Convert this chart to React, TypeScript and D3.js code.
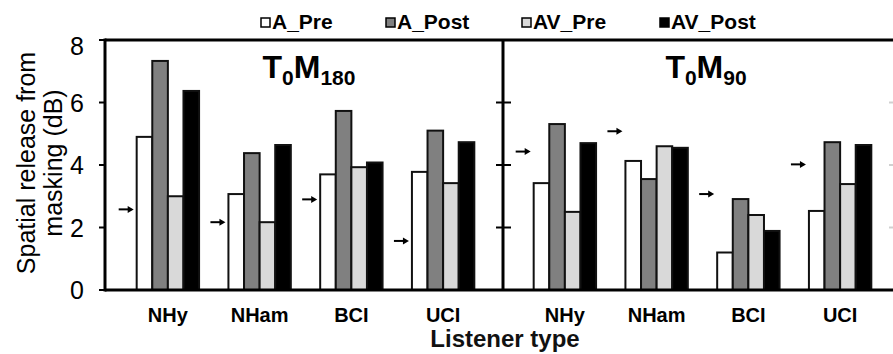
import * as d3 from 'd3';

const categories = ['NHy', 'NHam', 'BCI', 'UCI'];
const seriesNames = ['A_Pre', 'A_Post', 'AV_Pre', 'AV_Post'];
const seriesColors = ['#ffffff', '#808080', '#d9d9d9', '#000000'];
const yTicks = [0, 2, 4, 6, 8];

// T0M180 panel
const leftValues = [
  [4.9, 7.33, 3.0, 6.37],
  [3.07, 4.38, 2.17, 4.64],
  [3.7, 5.73, 3.93, 4.08],
  [3.78, 5.1, 3.42, 4.73],
];
const leftArrows = [2.58, 2.17, 2.9, 1.57];

// T0M90 panel
const rightValues = [
  [3.42, 5.31, 2.5, 4.7],
  [4.13, 3.55, 4.6, 4.55],
  [1.2, 2.91, 2.4, 1.89],
  [2.53, 4.73, 3.39, 4.64],
];
const rightArrows = [4.43, 5.08, 3.07, 4.02];

const W = 893;
const H = 354;
const y = d3.scaleLinear().domain([0, 8]).range([290, 40]);
const axisX = 105;
const dividerX = 503;
const font = '"Liberation Sans", Arial, sans-serif';

const Panel = ({ values, arrows, range }: { values: number[][]; arrows: number[]; range: [number, number] }) => {
  const x = d3.scaleBand().domain(categories).range(range).paddingInner(0.32).paddingOuter(0.16);
  const xs = d3.scaleBand().domain(seriesNames).range([0, x.bandwidth()]);
  return (
    <g>
      {categories.map((c, i) => (
        <g key={c} transform={`translate(${x(c)},0)`}>
          {seriesNames.map((s, j) => (
            <rect
              key={s}
              x={xs(s)}
              y={y(values[i][j])}
              width={xs.bandwidth()}
              height={y(0) - y(values[i][j])}
              fill={seriesColors[j]}
              stroke="#111"
              strokeWidth={2}
            />
          ))}
          <line x1={-18} x2={-8} y1={y(arrows[i])} y2={y(arrows[i])} stroke="#000" strokeWidth={2} />
          <path d={`M-9,${y(arrows[i]) - 3.5}L-3,${y(arrows[i])}L-9,${y(arrows[i]) + 3.5}Z`} fill="#000" />
          <text
            x={x.bandwidth() / 2}
            y={322}
            textAnchor="middle"
            fontSize={20}
            fontWeight="bold"
            fill="#000"
          >
            {c}
          </text>
        </g>
      ))}
    </g>
  );
};

const legendX = [261, 386, 522, 660];

export default function App() {
  return (
    <svg
      width={W}
      height={H}
      style={{ position: 'absolute', left: 0, top: 0, background: '#fff' }}
      fontFamily={font}
    >
      <rect width={W} height={H} fill="#fff" />

      {/* legend */}
      {seriesNames.map((s, i) => (
        <g key={s}>
          <rect x={legendX[i]} y={18} width={9} height={9} fill={seriesColors[i]} stroke="#000" strokeWidth={1.5} />
          <text x={legendX[i] + 11} y={29} fontSize={21} fontWeight="bold" fill="#000">
            {s}
          </text>
        </g>
      ))}

      <Panel values={leftValues} arrows={leftArrows} range={[122, 489]} />
      <Panel values={rightValues} arrows={rightArrows} range={[519, 886]} />

      {/* frame */}
      <line x1={axisX} x2={W} y1={y(8)} y2={y(8)} stroke="#000" strokeWidth={3} />
      <line x1={axisX} x2={W} y1={y(0)} y2={y(0)} stroke="#000" strokeWidth={3} />
      <line x1={axisX} x2={axisX} y1={y(8) - 1.5} y2={y(0) + 1.5} stroke="#000" strokeWidth={3} />
      <line x1={dividerX} x2={dividerX} y1={y(8)} y2={y(0)} stroke="#000" strokeWidth={3} />

      {yTicks.map((t) => (
        <g key={t}>
          <line x1={axisX - 6} x2={axisX} y1={y(t)} y2={y(t)} stroke="#000" strokeWidth={2} />
          {t > 0 && t < 8 && (
            <>
              <line x1={dividerX - 7} x2={dividerX + 8} y1={y(t)} y2={y(t)} stroke="#000" strokeWidth={2} />
              <line x1={W - 4} x2={W} y1={y(t)} y2={y(t)} stroke="#d0d0d0" strokeWidth={2} />
            </>
          )}
          <text
            x={84}
            y={y(t) + (t === 8 ? 6 : 0)}
            dy="0.36em"
            textAnchor="end"
            fontSize={25}
            fill="#000"
          >
            {t}
          </text>
        </g>
      ))}

      {/* panel titles */}
      <text x={309} y={78} textAnchor="middle" fontSize={32} fontWeight="bold" fill="#000">
        T<tspan fontSize={21} dy={7}>0</tspan>
        <tspan dy={-7}>M</tspan>
        <tspan fontSize={21} dy={7}>180</tspan>
      </text>
      <text x={706} y={78} textAnchor="middle" fontSize={32} fontWeight="bold" fill="#000">
        T<tspan fontSize={21} dy={7}>0</tspan>
        <tspan dy={-7}>M</tspan>
        <tspan fontSize={21} dy={7}>90</tspan>
      </text>

      {/* axis titles */}
      <text transform="translate(35,163) rotate(-90)" textAnchor="middle" fontSize={25} fill="#000">
        Spatial release from
      </text>
      <text transform="translate(62,163) rotate(-90)" textAnchor="middle" fontSize={25} fill="#000">
        masking (dB)
      </text>
      <text x={505} y={347} textAnchor="middle" fontSize={24} fontWeight="bold" fill="#111">
        Listener type
      </text>
    </svg>
  );
}
